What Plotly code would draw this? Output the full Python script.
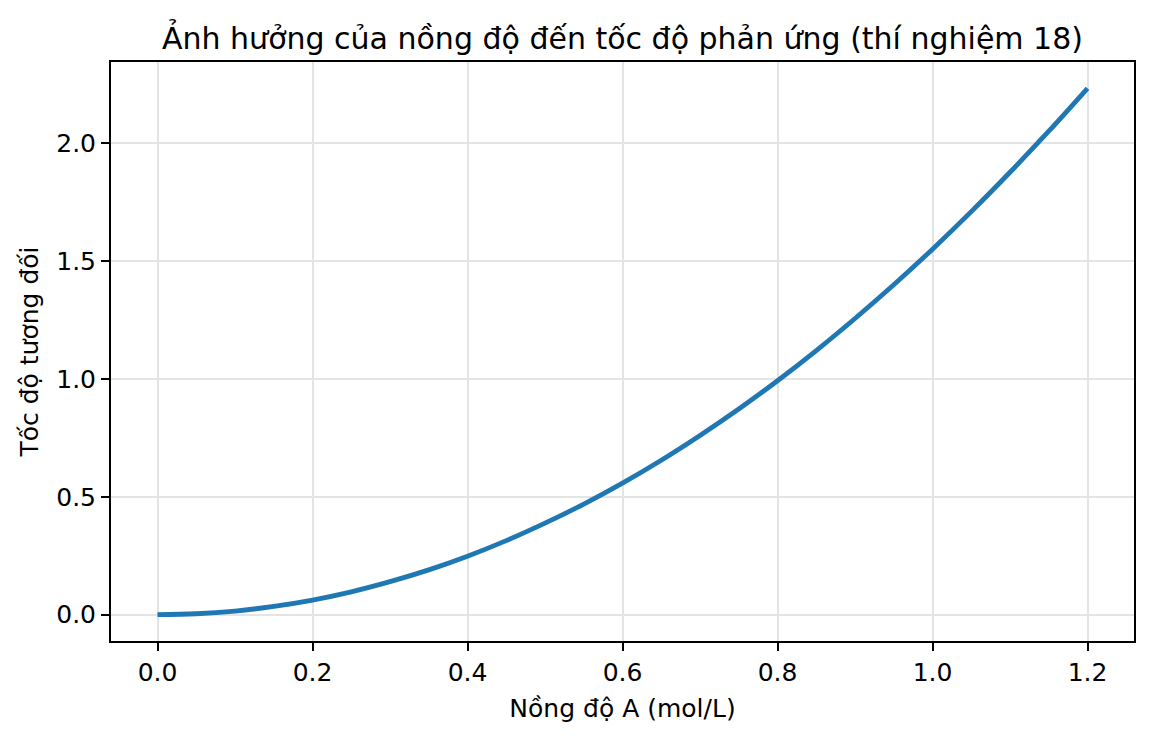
import plotly.graph_objects as go

# nồng độ A (mol/L) and relative rate
nong_do = [0.0, 0.05, 0.1, 0.15, 0.2, 0.25, 0.3, 0.35, 0.4, 0.45, 0.5, 0.55,
           0.6, 0.65, 0.7, 0.75, 0.8, 0.85, 0.9, 0.95, 1.0, 1.05, 1.1, 1.15, 1.2]
toc_do = [0.0, 0.004, 0.0155, 0.035, 0.062, 0.097, 0.14, 0.19, 0.248, 0.314,
          0.388, 0.469, 0.558, 0.655, 0.76, 0.872, 0.992, 1.12, 1.256, 1.399,
          1.55, 1.709, 1.876, 2.05, 2.232]

x_ticks = [0.0, 0.2, 0.4, 0.6, 0.8, 1.0, 1.2]
y_ticks = [0.0, 0.5, 1.0, 1.5, 2.0]

fig = go.Figure()
fig.add_trace(
    go.Scatter(
        x=nong_do,
        y=toc_do,
        mode="lines",
        line=dict(color="#1f77b4", width=4.8, shape="spline"),
        showlegend=False
    )
)

axis_style = dict(
    showline=True,
    linecolor="black",
    linewidth=2,
    mirror=True,
    ticks="outside",
    ticklen=8,
    tickwidth=2,
    tickcolor="black",
    showgrid=True,
    gridcolor="#e4e4e4",
    gridwidth=2,
    zeroline=False,
    tickfont=dict(size=25, color="black"),
)

fig.update_layout(
    width=1152,
    height=738,
    paper_bgcolor="white",
    plot_bgcolor="white",
    font=dict(family="DejaVu Sans", color="black"),
    margin=dict(l=111, r=18, t=62, b=97),
    title=dict(
        text="Ảnh hưởng của nồng độ đến tốc độ phản ứng (thí nghiệm 18)",
        xref="paper",
        x=0.5,
        xanchor="center",
        y=1 - 38 / 738,
        yanchor="middle",
        font=dict(size=30, color="black")
    ),
    xaxis=dict(
        axis_style,
        range=[-0.06, 1.26],
        tickvals=x_ticks,
        ticktext=[f"{v:.1f}" for v in x_ticks],
        title=dict(text="Nồng độ A (mol/L)", font=dict(size=25), standoff=13),
    ),
    yaxis=dict(
        axis_style,
        range=[-0.1116, 2.3436],
        tickvals=y_ticks,
        ticktext=[f"{v:.1f}" for v in y_ticks],
        title=dict(text="Tốc độ tương đối", font=dict(size=25), standoff=10),
    ),
)

fig.write_html(
    "out.html",
    config={"displayModeBar": False},
    post_script="document.body.style.margin='0';"
)
